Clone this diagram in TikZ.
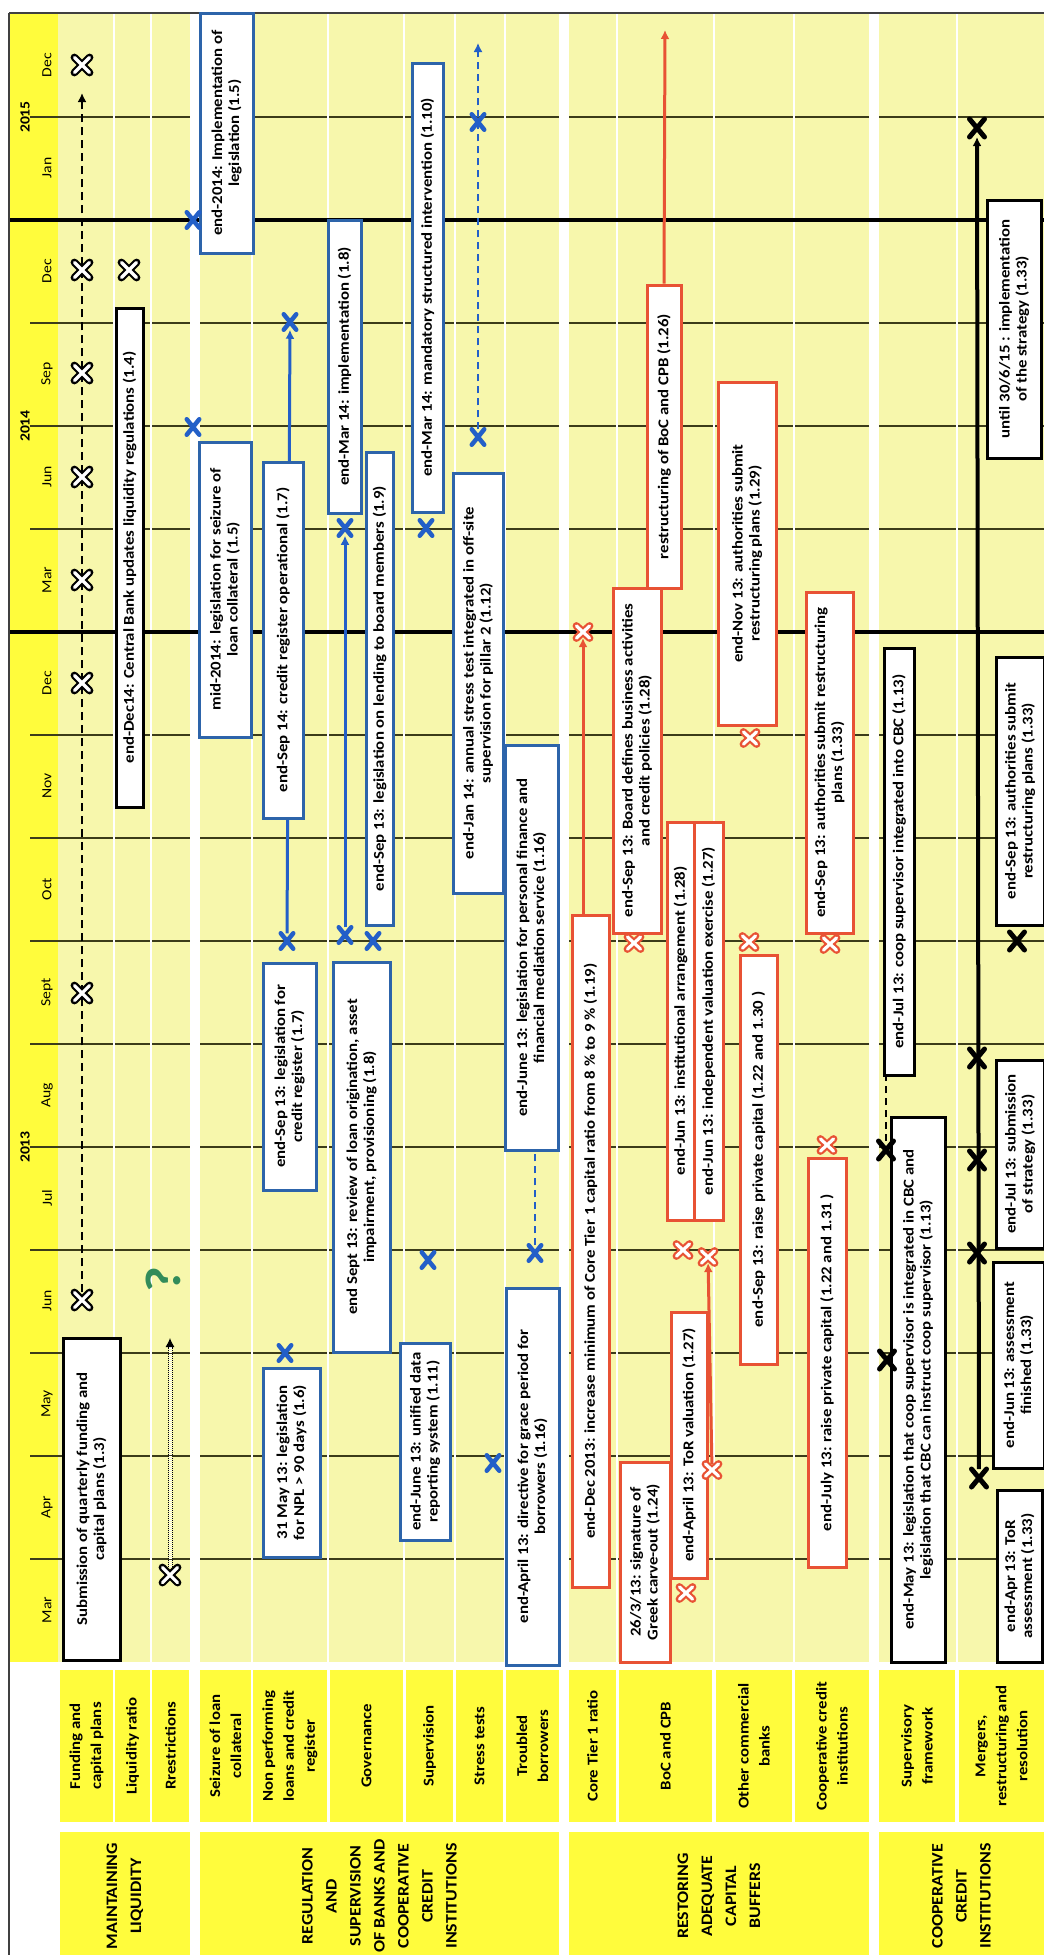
\documentclass[tikz,border=0pt]{standalone}
\usepackage{fontspec}
\setmainfont{Carlito}[FakeStretch=1.12]
\usepackage{tikz}
\usetikzlibrary{fit}
\usetikzlibrary{shapes.misc}
\usetikzlibrary{arrows.meta}

\definecolor{chartbg}{RGB}{247,247,172}
\definecolor{hdr}{RGB}{255,252,60}
\definecolor{boxblue}{RGB}{45,100,170}
\definecolor{mblue}{RGB}{35,95,200}
\definecolor{boxred}{RGB}{232,82,52}
\definecolor{qgreen}{RGB}{50,140,90}
\definecolor{gridcol}{RGB}{60,60,25}

\pgfdeclarelayer{grid}
\pgfdeclarelayer{links}
\pgfsetlayers{grid,links,main}

\newcommand\boxfont{\bfseries\fontsize{15}{17}\selectfont}
\newcommand\lblfont{\bfseries\fontsize{15}{21}\selectfont}
\newcommand\catfont{\bfseries\fontsize{16}{24}\selectfont}
\newcommand\monthfont{\fontsize{14}{16}\selectfont}

\tikzset{box/.style={rectangle, line width=3pt, fill=white, inner sep=0pt}}
\tikzset{bluebox/.style={box, draw=boxblue}}
\tikzset{redbox/.style={box, draw=boxred}}
\tikzset{blkbox/.style={box, draw=black}}
\tikzset{txt/.style={rotate=90, align=center, inner sep=0pt, font=\boxfont}}
\tikzset{lbl/.style={rectangle, fill=hdr, inner sep=0pt}}
\tikzset{lbltxt/.style={rotate=90, align=center, inner sep=0pt, font=\lblfont}}
\tikzset{cattxt/.style={rotate=90, align=center, inner sep=0pt, font=\catfont}}
\tikzset{month/.style={rotate=90, inner sep=0pt, font=\monthfont}}
\tikzset{year/.style={rotate=90, inner sep=0pt, font=\bfseries\fontsize{14}{16}\selectfont}}
\tikzset{wx/.style={cross out, draw=black, line width=2.2pt, double=white, double distance=3.2pt,
   line cap=round, minimum width=13pt, minimum height=13pt, inner sep=0pt}}
\tikzset{rx/.style={wx, draw=boxred, minimum width=11pt, minimum height=10pt}}
\tikzset{bx/.style={cross out, draw=mblue, line width=4.5pt, line cap=round,
   minimum width=8pt, minimum height=11pt, inner sep=0pt}}
\tikzset{kx/.style={bx, draw=black, line width=5pt, minimum width=10pt, minimum height=13pt}}
\tikzset{gridln/.style={draw=gridcol, line width=2pt}}
\tikzset{yearln/.style={draw=black, line width=4.5pt}}
\tikzset{sepln/.style={draw=white, line width=2pt}}
\tikzset{frameln/.style={draw=black!75, line width=1.5pt}}
\tikzset{tip/.style={-{Latex[length=9pt,width=9pt]}}}

\begin{document}
\begin{tikzpicture}[x=1pt, y=-1pt]

  \useasboundingbox (0,0) rectangle (1044,1955);

  % chart grid
  \begin{pgfonlayer}{grid}
    \fill[chartbg] (58,13) rectangle (1044,1662);
    \fill[hdr] (9,13) rectangle (58,1662);
    \draw[gridln] (30,1559) -- (1044,1559);
    \draw[gridln] (30,1456) -- (1044,1456);
    \draw[gridln] (30,1353) -- (1044,1353);
    \draw[gridln] (30,1250) -- (1044,1250);
    \draw[gridln] (30,1147) -- (1044,1147);
    \draw[gridln] (30,1044) -- (1044,1044);
    \draw[gridln] (30,941) -- (1044,941);
    \draw[gridln] (30,838) -- (1044,838);
    \draw[gridln] (30,735) -- (1044,735);
    \draw[gridln] (30,529) -- (1044,529);
    \draw[gridln] (30,426) -- (1044,426);
    \draw[gridln] (30,323) -- (1044,323);
    \draw[gridln] (30,117) -- (1044,117);
    \draw[sepln] (114,13) -- (114,1662);
    \draw[sepln] (151,13) -- (151,1662);
    \draw[sepln] (252,13) -- (252,1662);
    \draw[sepln] (328,13) -- (328,1662);
    \draw[sepln] (404,13) -- (404,1662);
    \draw[sepln] (455,13) -- (455,1662);
    \draw[sepln] (505,13) -- (505,1662);
    \draw[sepln] (617,13) -- (617,1662);
    \draw[sepln] (714,13) -- (714,1662);
    \draw[sepln] (794,13) -- (794,1662);
    \draw[sepln] (957,13) -- (957,1662);
    \fill[white] (190,13) rectangle (200,1662);
    \fill[white] (559,13) rectangle (569,1662);
    \fill[white] (869,13) rectangle (879,1662);
    \draw[yearln] (9,632) -- (1044,632);
    \draw[yearln] (9,220) -- (1044,220);
    \draw[frameln] (9,13) -- (1044,13);
    \draw[frameln] (9,13) -- (9,1955);
  \end{pgfonlayer}

  % time axis
  \node[year] (y13) at (25,1147) {2013};
  \node[year] (y14) at (25,426) {2014};
  \node[year] (y15) at (25,117) {2015};
  \node[month] (m1) at (47,1610) {Mar};
  \node[month] (m2) at (47,1507) {Apr};
  \node[month] (m3) at (47,1404) {May};
  \node[month] (m4) at (47,1301) {Jun};
  \node[month] (m5) at (47,1198) {Jul};
  \node[month] (m6) at (47,1095) {Aug};
  \node[month] (m7) at (47,992) {Sept};
  \node[month] (m8) at (47,889) {Oct};
  \node[month] (m9) at (47,786) {Nov};
  \node[month] (m10) at (47,683) {Dec};
  \node[month] (m11) at (47,580) {Mar};
  \node[month] (m12) at (47,477) {Jun};
  \node[month] (m13) at (47,374) {Sep};
  \node[month] (m14) at (47,271) {Dec};
  \node[month] (m15) at (47,168) {Jan};
  \node[month] (m16) at (47,65) {Dec};

  % row labels
  \node[lbl, fit={(60,1670) (113,1822)}, label={[lbltxt]center:{Funding and\\capital plans}}] (rfund) {};
  \node[lbl, fit={(115,1670) (150,1822)}, label={[lbltxt]center:{Liquidity ratio}}] (rliq) {};
  \node[lbl, fit={(152,1670) (189,1822)}, label={[lbltxt]center:{Rrestrictions}}] (rrestr) {};
  \node[lbl, fit={(200,1670) (251,1822)}, label={[lbltxt]center:{Seizure of loan\\collateral}}] (rseiz) {};
  \node[lbl, fit={(253,1670) (327,1822)}, label={[lbltxt]center:{Non performing\\loans and credit\\register}}] (rnpl) {};
  \node[lbl, fit={(330,1670) (403,1822)}, label={[lbltxt]center:{Governance}}] (rgov) {};
  \node[lbl, fit={(406,1670) (453,1822)}, label={[lbltxt]center:{Supervision}}] (rsup) {};
  \node[lbl, fit={(456,1670) (503,1822)}, label={[lbltxt]center:{Stress tests}}] (rstress) {};
  \node[lbl, fit={(506,1670) (559,1822)}, label={[lbltxt]center:{Troubled\\borrowers}}] (rtroub) {};
  \node[lbl, fit={(569,1670) (616,1822)}, label={[lbltxt]center:{Core Tier 1 ratio}}] (rtier) {};
  \node[lbl, fit={(619,1670) (712,1822)}, label={[lbltxt]center:{BoC and CPB}}] (rboc) {};
  \node[lbl, fit={(716,1670) (792,1822)}, label={[lbltxt]center:{Other commercial\\banks}}] (rother) {};
  \node[lbl, fit={(795,1670) (869,1822)}, label={[lbltxt]center:{Cooperative credit\\institutions}}] (rcoop) {};
  \node[lbl, fit={(879,1670) (955,1822)}, label={[lbltxt]center:{Supervisory\\framework}}] (rsframe) {};
  \node[lbl, fit={(959,1670) (1044,1822)}, label={[lbltxt]center:{Mergers,\\restructuring and\\resolution}}] (rmerg) {};

  % categories
  \node[lbl, fit={(60,1832) (190,1960)}, label={[cattxt]center:{MAINTAINING\\LIQUIDITY}}] (cliq) {};
  \node[lbl, fit={(200,1832) (559,1960)}, label={[cattxt]center:{REGULATION\\AND\\SUPERVISION\\OF BANKS AND\\COOPERATIVE\\CREDIT\\INSTITUTIONS}}] (creg) {};
  \node[lbl, fit={(569,1832) (869,1960)}, label={[cattxt]center:{RESTORING\\ADEQUATE\\CAPITAL\\BUFFERS}}] (ccap) {};
  \node[lbl, fit={(879,1832) (1044,1960)}, label={[cattxt]center:{COOPERATIVE\\CREDIT\\INSTITUTIONS}}] (ccoop) {};

  % boxes
  \node[blkbox, fit={(63,1338) (120,1660)}, label={[txt]center:{Submission of quarterly funding and\\capital plans (1.3)}}] (fundbox) {};
  \node[blkbox, fit={(116,308) (143,807)}, label={[txt]center:{end-Dec14: Central Bank updates liquidity regulations (1.4)}}] (liqbox) {};
  \node[bluebox, fit={(199,442) (251,737)}, label={[txt]center:{mid-2014: legislation for seizure of\\loan collateral (1.5)}}] (seizbox) {};
  \node[bluebox, fit={(200,13) (253,253)}, label={[txt]center:{end-2014: Implementation of\\legislation (1.5)}}] (implbox) {};
  \node[bluebox, fit={(263,1368) (320,1557)}, label={[txt]center:{31 May 13: legislation\\for NPL > 90 days (1.6)}}] (nplbox) {};
  \node[bluebox, fit={(263,963) (316,1190)}, label={[txt]center:{end-Sep 13: legislation for\\credit register (1.7)}}] (regbox) {};
  \node[bluebox, fit={(263,462) (303,818)}, label={[txt]center:{end-Sep 14: credit register operational (1.7)}}] (opbox) {};
  \node[bluebox, fit={(333,962) (390,1352)}, label={[txt]center:{end Sept 13: review of loan origination, asset\\impairment, provisioning (1.8)}}] (revbox) {};
  \node[bluebox, fit={(328,220) (361,513)}, label={[txt]center:{end-Mar 14: implementation (1.8)}}] (govimpl) {};
  \node[bluebox, fit={(366,452) (393,925)}, label={[txt]center:{end-Sep 13: legislation on lending to board members (1.9)}}] (lendbox) {};
  \node[bluebox, fit={(400,1343) (450,1540)}, label={[txt]center:{end-June 13: unified data\\reporting system (1.11)}}] (databox) {};
  \node[bluebox, fit={(412,63) (443,512)}, label={[txt]center:{end-Mar 14: mandatory structured intervention (1.10)}}] (mandbox) {};
  \node[bluebox, fit={(453,473) (503,893)}, label={[txt]center:{end-Jan 14: annual stress test integrated in off-site\\supervision for pillar 2 (1.12)}}] (stressbox) {};
  \node[bluebox, fit={(506,1288) (559,1665)}, label={[txt]center:{end-April 13: directive for grace period for\\borrowers (1.16)}}] (gracebox) {};
  \node[bluebox, fit={(505,745) (558,1150)}, label={[txt]center:{end-June 13: legislation for personal finance and\\financial mediation service (1.16)}}] (medbox) {};
  \node[redbox, fit={(572,915) (609,1587)}, label={[txt]center:{end-Dec 2013: increase minimum of Core Tier 1 capital ratio from 8 \% to 9 \% (1.19)}}] (tierbox) {};
  \node[redbox, fit={(620,1462) (670,1662)}, label={[txt]center:{26/3/13: signature of\\Greek carve-out (1.24)}}] (carvebox) {};
  \node[redbox, fit={(671,1312) (707,1578)}, label={[txt]center:{end-April 13: ToR valuation (1.27)}}] (torbox) {};
  \node[redbox, fit={(667,822) (694,1220)}, label={[txt]center:{end-Jun 13: institutional arrangement (1.28)}}] (instbox) {};
  \node[redbox, fit={(694,822) (723,1220)}, label={[txt]center:{end-Jun 13: independent valuation exercise (1.27)}}] (valbox) {};
  \node[redbox, fit={(613,588) (661,933)}, label={[txt]center:{end-Sep 13: Board defines business activities\\and credit policies (1.28)}}] (boardbox) {};
  \node[redbox, fit={(647,285) (681,588)}, label={[txt]center:{restructuring of BoC and CPB (1.26)}}] (bocbox) {};
  \node[redbox, fit={(740,955) (777,1364)}, label={[txt]center:{end-Sep 13: raise private capital (1.22 and 1.30 )}}] (raisebox) {};
  \node[redbox, fit={(718,382) (776,725)}, label={[txt]center:{end-Nov 13: authorities submit\\restructuring plans (1.29)}}] (novbox) {};
  \node[redbox, fit={(808,1158) (846,1567)}, label={[txt]center:{end-July 13: raise private capital (1.22 and 1.31 )}}] (raisebox2) {};
  \node[redbox, fit={(806,592) (853,933)}, label={[txt]center:{end-Sep 13: authorities submit restructuring\\plans (1.33)}}] (coopbox) {};
  \node[blkbox, fit={(891,1117) (945,1662)}, label={[txt]center:{end-May 13: legislation that coop supervisor is integrated in CBC and\\legislation that CBC can instruct coop supervisor (1.13)}}] (lawbox) {};
  \node[blkbox, fit={(884,648) (914,1075)}, label={[txt]center:{end-Jul 13: coop supervisor integrated into CBC (1.13)}}] (intbox) {};
  \node[blkbox, fit={(997,1490) (1042,1662)}, label={[txt]center:{end-Apr 13: ToR\\assessment (1.33)}}] (mtorbox) {};
  \node[blkbox, fit={(993,1262) (1044,1468)}, label={[txt]center:{end-Jun 13: assessment\\finished (1.33)}}] (mfinbox) {};
  \node[blkbox, fit={(996,1060) (1044,1248)}, label={[txt]center:{end-Jul 13: submission\\of strategy (1.33)}}] (mstratbox) {};
  \node[blkbox, fit={(996,657) (1044,925)}, label={[txt]center:{end-Sep 13: authorities submit\\restructuring plans (1.33)}}] (mplanbox) {};
  \node[blkbox, fit={(987,200) (1041,458)}, label={[txt]center:{until 30/6/15 : implementation\\of the strategy (1.33)}}] (mimplbox) {};

  % markers
  \node[wx] (fjun13) at (82,1300) {};
  \node[wx] (fsep13) at (82,993) {};
  \node[wx] (fdec13) at (82,683) {};
  \node[wx] (fmar14) at (82,580) {};
  \node[wx] (fjun14) at (82,477) {};
  \node[wx] (fsep14) at (82,373) {};
  \node[wx] (fdec14) at (82,270) {};
  \node[wx] (fdec15) at (82,65) {};
  \coordinate (fend) at (82,93);
  \node[wx] (ldec14) at (129,270) {};
  \node[wx] (rmar13) at (170,1575) {};
  \coordinate (rend) at (170,1338);
  \node[rotate=90, inner sep=0pt, text=qgreen, font=\bfseries\fontsize{50}{50}\selectfont] (quest) at (163,1280) {?};
  \node[bx] (sjun14) at (193,427) {};
  \node[bx] (sdec14) at (193,220) {};
  \node[bx] (nmay13) at (285,1353) {};
  \node[bx] (nsep13) at (287,941) {};
  \node[bx] (nsep14) at (290,322) {};
  \node[bx] (gsep13) at (345,935) {};
  \node[bx] (gsep13b) at (373,941) {};
  \node[bx] (gmar14) at (345,528) {};
  \node[bx] (vjun13) at (428,1260) {};
  \node[bx] (vmar14) at (426,528) {};
  \node[bx] (tjun14) at (478,437) {};
  \node[bx] (tjan15) at (478,122) {};
  \coordinate (tend) at (478,43);
  \node[bx] (bapr13) at (493,1463) {};
  \node[bx] (bjun13) at (535,1253) {};
  \node[rx] (cdec13) at (583,632) {};
  \node[rx] (cmar13) at (686,1593) {};
  \node[rx] (capr13) at (712,1470) {};
  \node[rx] (cjun13) at (708,1257) {};
  \node[rx] (cjun13b) at (683,1250) {};
  \node[rx] (csep13) at (634,943) {};
  \coordinate (cend) at (665,30);
  \node[rx] (onov13) at (750,738) {};
  \node[rx] (osep13) at (749,942) {};
  \node[rx] (kjul13) at (827,1145) {};
  \node[rx] (ksep13) at (830,944) {};
  \node[kx] (vmay13) at (887,1360) {};
  \node[kx] (vjul13) at (886,1150) {};
  \node[kx] (mapr13) at (979,1478) {};
  \node[kx] (mjun13) at (977,1253) {};
  \node[kx] (mjul13) at (977,1160) {};
  \node[kx] (maug13) at (977,1058) {};
  \node[kx] (msep13) at (1017,941) {};
  \node[kx] (mjun15) at (977,128) {};

  % connectors
  \begin{pgfonlayer}{links}
    \draw[black, line width=2pt, dash pattern=on 8pt off 5pt, tip] (fjun13) -- (fend);
    \draw[black, line width=1pt, densely dotted, double=white, double distance=3pt, tip] (rmar13) -- (rend);
    \draw[mblue, line width=3pt, tip] (nsep13) -- (nsep14);
    \draw[mblue, line width=3pt, tip] (gsep13) -- (gmar14);
    \draw[mblue, line width=1.5pt, dash pattern=on 7pt off 5pt, tip] (tjun14) -- (tend);
    \draw[mblue, line width=1.5pt, dash pattern=on 7pt off 5pt] (bjun13) -- (bjun13 |- medbox.south);
    \draw[boxred, line width=3pt, tip] (tierbox.north -| cdec13) -- (cdec13);
    \draw[boxred, line width=3pt, tip] (capr13) -- (cjun13);
    \draw[boxred, line width=3pt, tip] (bocbox.north) -- (cend);
    \draw[black, line width=1.5pt, dash pattern=on 7pt off 5pt] (vjul13) -- (vjul13 |- intbox.south);
    \draw[black, line width=4pt, tip] (mapr13) -- (mjun15);
  \end{pgfonlayer}

\end{tikzpicture}
\end{document}
